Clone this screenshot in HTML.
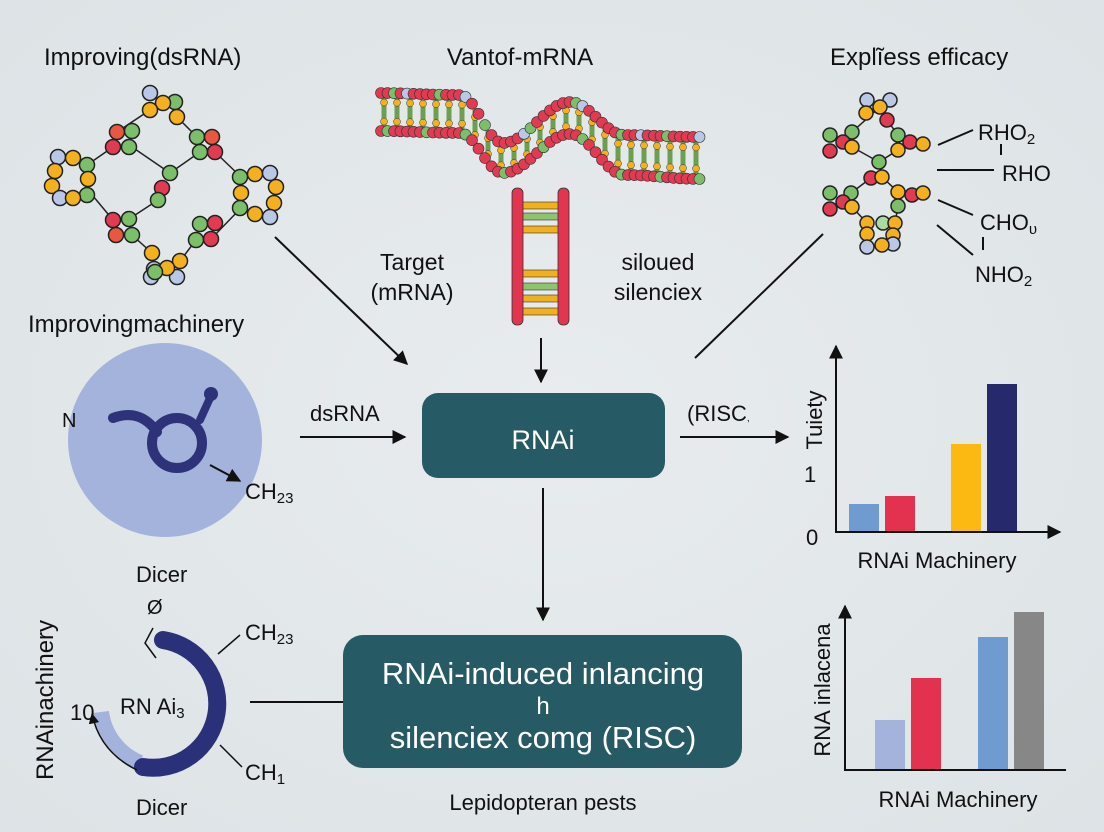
<!DOCTYPE html>
<html><head><meta charset="utf-8"><style>
html,body{margin:0;padding:0;background:#e3e8ea;}
svg{display:block;font-family:"Liberation Sans","DejaVu Sans",sans-serif;}
</style></head><body>
<svg id="s" width="1104" height="832" viewBox="0 0 1104 832" xmlns="http://www.w3.org/2000/svg">
<defs>
<radialGradient id="bg" cx="50%" cy="50%" r="70%"><stop offset="0" stop-color="#e8ecee"/><stop offset="1" stop-color="#dde3e6"/></radialGradient>
<marker id="ah" viewBox="0 0 10 10" refX="9" refY="5" markerWidth="7" markerHeight="7" orient="auto"><path d="M0,0 L10,5 L0,10 z" fill="#111"/></marker>
</defs>
<rect width="1104" height="832" fill="url(#bg)"/>

<g fill="#111" font-size="24">
<text x="44" y="65">Improving(dsRNA)</text>
<text x="520" y="65" text-anchor="middle">Vantof-mRNA</text>
<text x="830" y="65">Explĩess efficacy</text>
<text x="28" y="332">Improvingmachinery</text>
</g>

<g id="mol1" stroke="#222" stroke-width="1.5"></g>
<g id="mol2" stroke="#222" stroke-width="1.5"></g>
<g id="helix"></g>

<g>
<rect x="522" y="202" width="37" height="7" fill="#f2b01e" stroke="#333" stroke-width="0.6"/>
<rect x="522" y="213" width="37" height="7" fill="#8fc46b" stroke="#333" stroke-width="0.6"/>
<rect x="522" y="226" width="37" height="7" fill="#f2b01e" stroke="#333" stroke-width="0.6"/>
<rect x="522" y="270" width="37" height="7" fill="#f2b01e" stroke="#333" stroke-width="0.6"/>
<rect x="522" y="283" width="37" height="7" fill="#8fc46b" stroke="#333" stroke-width="0.6"/>
<rect x="522" y="295" width="37" height="7" fill="#f2b01e" stroke="#333" stroke-width="0.6"/>
<rect x="522" y="308" width="37" height="7" fill="#f2b01e" stroke="#333" stroke-width="0.6"/>
<rect x="512" y="188" width="11" height="137" rx="5" fill="#e33550" stroke="#333" stroke-width="0.8"/>
<rect x="558" y="188" width="11" height="137" rx="5" fill="#e33550" stroke="#333" stroke-width="0.8"/>
</g>

<g fill="#111" font-size="23" text-anchor="middle">
<text x="412" y="270">Target</text>
<text x="412" y="300">(mRNA)</text>
<text x="658" y="270">siloued</text>
<text x="658" y="300">silenciex</text>
</g>

<g stroke="#111" stroke-width="2" fill="none">
<line x1="938" y1="145" x2="973" y2="130"/>
<line x1="1001" y1="144" x2="1001" y2="155"/>
<line x1="937" y1="170" x2="994" y2="170"/>
<line x1="938" y1="200" x2="973" y2="215"/>
<line x1="937" y1="225" x2="973" y2="255"/>
<line x1="983" y1="237" x2="983" y2="250"/>
</g>
<g fill="#111" font-size="22">
<text x="978" y="140">RHO<tspan font-size="15" dy="4">2</tspan></text>
<text x="1002" y="181">RHO</text>
<text x="980" y="230">CHO<tspan font-size="15" dy="4">υ</tspan></text>
<text x="975" y="282">NHO<tspan font-size="15" dy="4">2</tspan></text>
</g>

<g stroke="#111" stroke-width="2" fill="none">
<line x1="275" y1="237" x2="407" y2="364" marker-end="url(#ah)"/>
<line x1="541" y1="338" x2="541" y2="382" marker-end="url(#ah)"/>
<line x1="823" y1="234" x2="695" y2="358"/>
<line x1="300" y1="437" x2="405" y2="437" marker-end="url(#ah)"/>
<line x1="680" y1="437" x2="788" y2="437" marker-end="url(#ah)"/>
<line x1="543" y1="488" x2="543" y2="620" marker-end="url(#ah)"/>
<line x1="250" y1="702" x2="343" y2="702"/>
</g>
<text x="310" y="421" font-size="22" fill="#111">dsRNA</text>
<text x="687" y="421" font-size="22" fill="#111">(RISC<tspan font-size="10">,</tspan></text>

<rect x="422" y="393" width="243" height="85" rx="16" fill="#265a64"/>
<text x="543" y="449" font-size="27" fill="#fff" text-anchor="middle">RNAi</text>
<rect x="343" y="635" width="399" height="133" rx="20" fill="#265a64"/>
<g fill="#fff" text-anchor="middle">
<text x="543" y="684" font-size="31">RNAi-induced inlancing</text>
<text x="543" y="714" font-size="24">h</text>
<text x="543" y="748" font-size="31">silenciex comg (RISC)</text>
</g>
<text x="543" y="810" font-size="22" fill="#111" text-anchor="middle">Lepidopteran pests</text>

<circle cx="165" cy="440" r="97" fill="#a4b3dc"/>
<circle cx="177" cy="443" r="25" fill="none" stroke="#2d3279" stroke-width="10"/>
<path d="M113,418 Q140,408 157,432" fill="none" stroke="#2d3279" stroke-width="10" stroke-linecap="round"/>
<line x1="200" y1="420" x2="210" y2="398" stroke="#2d3279" stroke-width="8" stroke-linecap="round"/>
<circle cx="211" cy="394" r="7" fill="#2d3279"/>
<line x1="210" y1="465" x2="240" y2="481" stroke="#111" stroke-width="2" marker-end="url(#ah)"/>
<text x="62" y="427" font-size="20" fill="#111">N</text>
<text x="245" y="499" font-size="22" fill="#111">CH<tspan font-size="15" dy="4">23</tspan></text>
<text x="136" y="582" font-size="22" fill="#111">Dicer</text>

<path d="M101,712 A64,64 0 0 0 140,763" fill="none" stroke="#a4b3dc" stroke-width="16"/>
<path d="M163,640 A64,64 0 1 1 143,767" fill="none" stroke="#2b3178" stroke-width="18" stroke-linecap="round"/>
<path d="M137,770 Q100,752 92,714" fill="none" stroke="#111" stroke-width="1.5" marker-end="url(#ah)"/>
<path d="M156,658 L145,643 L153,628" fill="none" stroke="#111" stroke-width="1.5"/>
<line x1="218" y1="654" x2="240" y2="635" stroke="#111" stroke-width="1.5"/>
<line x1="220" y1="745" x2="242" y2="767" stroke="#111" stroke-width="1.5"/>
<g fill="#111">
<text x="147" y="614" font-size="20">Ø</text>
<text x="245" y="640" font-size="22">CH<tspan font-size="15" dy="4">23</tspan></text>
<text x="245" y="780" font-size="22">CH<tspan font-size="15" dy="4">1</tspan></text>
<text x="70" y="720" font-size="22">10</text>
<text x="120" y="714" font-size="22">RN Ai<tspan font-size="15" dy="4">3</tspan></text>
<text x="136" y="815" font-size="22">Dicer</text>
<text transform="translate(53,700) rotate(-90)" font-size="24" text-anchor="middle">RNAinachinery</text>
</g>

<g>
<rect x="849" y="504" width="30" height="28" fill="#6f9bd0"/>
<rect x="885" y="496" width="30" height="36" fill="#e3324f"/>
<rect x="951" y="444" width="30" height="88" fill="#fbb911"/>
<rect x="987" y="384" width="30" height="148" fill="#27296d"/>
<line x1="836" y1="532" x2="836" y2="346" stroke="#111" stroke-width="2" marker-end="url(#ah)"/>
<line x1="835" y1="532" x2="1060" y2="532" stroke="#111" stroke-width="2" marker-end="url(#ah)"/>
<text transform="translate(822,420) rotate(-90)" font-size="22" fill="#111" text-anchor="middle">Tuiety</text>
<text x="804" y="482" font-size="22" fill="#111">1</text>
<text x="806" y="545" font-size="22" fill="#111">0</text>
<text x="937" y="568" font-size="22" fill="#111" text-anchor="middle">RNAi Machinery</text>
</g>
<g>
<rect x="875" y="720" width="30" height="50" fill="#a4b3dc"/>
<rect x="911" y="678" width="30" height="92" fill="#e3324f"/>
<rect x="978" y="637" width="30" height="133" fill="#6f9bd0"/>
<rect x="1014" y="612" width="30" height="158" fill="#878787"/>
<line x1="845" y1="770" x2="845" y2="606" stroke="#111" stroke-width="2" marker-end="url(#ah)"/>
<line x1="844" y1="770" x2="1066" y2="770" stroke="#111" stroke-width="2"/>
<text transform="translate(830,690) rotate(-90)" font-size="22" fill="#111" text-anchor="middle">RNA inlacena</text>
<text x="958" y="807" font-size="22" fill="#111" text-anchor="middle">RNAi Machinery</text>
</g>
</svg>
<script>
(function(){
var NS="http://www.w3.org/2000/svg";
function el(p,t,a){var e=document.createElementNS(NS,t);for(var k in a)e.setAttribute(k,a[k]);p.appendChild(e);return e;}
var C={y:"#f5b11d",g:"#7cbf6a",r:"#e23a52",o:"#e8573f",l:"#b9c8e6",lg:"#a8dca0"};
var m1=document.getElementById("mol1");
var links=[[150,110,117,132],[177,117,197,137],[132,147,170,173],[215,152,241,177],[87,165,113,147],[88,190,113,220],[132,235,152,253],[211,239,241,208],[158,200,129,219],[200,152,170,173],[196,240,180,261]];
links.forEach(function(l){el(m1,"line",{x1:l[0],y1:l[1],x2:l[2],y2:l[3]});});
var n1=[[150,93,"l"],[175,102,"g"],[163,103,"y"],[150,110,"y"],[177,117,"y"],
[117,132,"o"],[132,131,"g"],[113,147,"r"],[129,147,"g"],
[197,137,"g"],[212,137,"o"],[200,152,"g"],[215,152,"r"],
[58,157,"l"],[73,158,"y"],[87,165,"g"],[55,171,"y"],[88,179,"y"],[52,186,"y"],[87,195,"g"],[60,198,"l"],[73,198,"y"],
[170,173,"g"],[162,188,"r"],[158,200,"g"],
[113,220,"r"],[129,219,"g"],[116,235,"o"],[132,235,"g"],
[200,224,"g"],[215,223,"r"],[196,240,"g"],[211,239,"r"],
[240,177,"g"],[255,174,"y"],[270,173,"l"],[276,187,"y"],[241,193,"y"],[274,203,"y"],[240,208,"g"],[255,214,"y"],[270,217,"l"],
[152,253,"y"],[180,261,"y"],[154,269,"l"],[151,277,"l"],[177,277,"l"],[167,268,"y"],[155,272,"g"]];
n1.forEach(function(n){el(m1,"circle",{cx:n[0],cy:n[1],r:7.5,fill:C[n[2]]});});
var m2=document.getElementById("mol2");
[[880,107,852,132],[887,120,898,135],[852,147,879,162],[898,150,879,162],[871,178,851,193],[882,177,898,192],[852,207,867,223],[898,206,893,235]].forEach(function(l){el(m2,"line",{x1:l[0],y1:l[1],x2:l[2],y2:l[3]});});
var n2=[[867,100,"l"],[890,100,"l"],[866,113,"y"],[880,107,"y"],[887,120,"r"],
[830,135,"g"],[852,132,"g"],[843,142,"r"],[830,151,"r"],[852,147,"y"],
[898,135,"g"],[910,142,"r"],[898,150,"y"],[923,144,"y"],
[879,162,"g"],[871,178,"r"],[882,177,"y"],
[830,193,"g"],[851,193,"g"],[843,202,"r"],[830,209,"r"],[852,207,"y"],
[898,192,"y"],[912,195,"r"],[923,193,"y"],[898,206,"g"],
[867,223,"y"],[883,223,"lg"],[895,223,"y"],[867,234,"y"],[893,235,"y"],[867,247,"l"],[893,244,"l"],[882,245,"y"]];
n2.forEach(function(n){el(m2,"circle",{cx:n[0],cy:n[1],r:7,fill:C[n[2]]});});
var h=document.getElementById("helix");
function ctr(x){
 var pts=[[378,112,19],[460,114,19],[503,158,15],[570,118,16],[625,155,20],[700,158,21]];
 for(var i=0;i<pts.length-1;i++){var a=pts[i],b=pts[i+1];if(x<=b[0]){var t=(x-a[0])/(b[0]-a[0]);t=(1-Math.cos(Math.PI*t))/2;return [a[1]+(b[1]-a[1])*t,a[2]+(b[2]-a[2])*t];}}
 return [158,21];}
for(var x=384;x<=696;x+=13){var c=ctr(x);
 el(h,"line",{x1:x,y1:c[0]-c[1],x2:x,y2:c[0]+c[1],stroke:"#6aa050","stroke-width":5});
 el(h,"circle",{cx:x,cy:c[0]-c[1]*0.5,r:3.5,fill:C.y,stroke:"#333","stroke-width":0.5});
 el(h,"circle",{cx:x,cy:c[0]+c[1]*0.5,r:3.5,fill:C.y,stroke:"#333","stroke-width":0.5});}
var i=0;
for(var x=381;x<=700;x+=6.5){var c=ctr(x);i++;
 el(h,"circle",{cx:x,cy:c[0]-c[1],r:5.5,fill:(i%7==3?C.g:(i%9==5?C.l:C.r)),stroke:"#333","stroke-width":0.6});
 el(h,"circle",{cx:x,cy:c[0]+c[1],r:5.5,fill:(i%6==2?C.g:C.r),stroke:"#333","stroke-width":0.6});}
})();
</script>
</body></html>
